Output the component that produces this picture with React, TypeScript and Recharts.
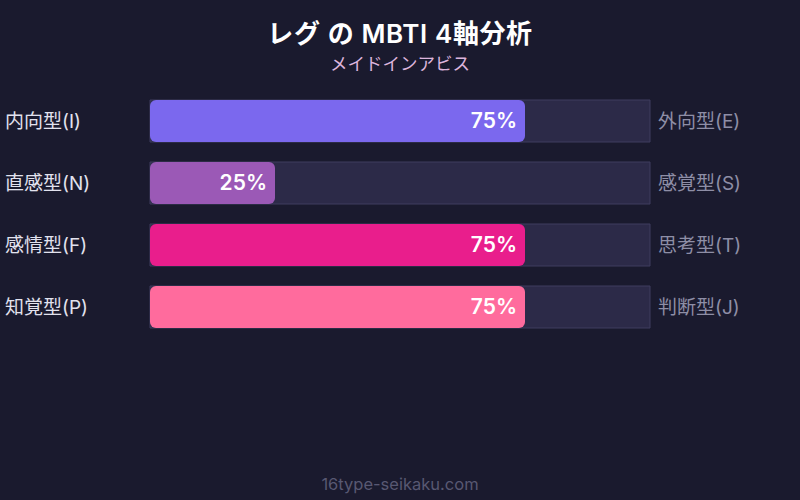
import { BarChart, Bar, XAxis, YAxis, Cell, LabelList } from 'recharts';

// MBTI 4軸：左側の型ごとのスコア（%）
const categories = ['内向型(I)', '直感型(N)', '感情型(F)', '知覚型(P)'];
const opposites = ['外向型(E)', '感覚型(S)', '思考型(T)', '判断型(J)'];
const scores = [75, 25, 75, 75];
const barColors = ['#7b68ee', '#9b59b6', '#e91e8c', '#ff6b9d'];

const FONT = "Inter, 'Noto Sans CJK JP', sans-serif";
const BG = '#1a1a2e';

const rows = categories.map((c, i) => ({ left: c, right: opposites[i], score: scores[i] }));

function LeftTick({ y, payload }: any) {
  return (
    <text x={5} y={y} dy={6.5} textAnchor="start" fill="#e2e2ee" fontSize={19} fontFamily={FONT}>
      {payload.value}
    </text>
  );
}

function RightTick({ y, payload }: any) {
  return (
    <text x={658} y={y} dy={6.5} textAnchor="start" fill="#8e8ea6" fontSize={19} fontFamily={FONT}>
      {payload.value}
    </text>
  );
}

export default function App() {
  return (
    <div style={{ position: 'absolute', left: 0, top: 0, width: 800, height: 500, background: BG, fontFamily: FONT }}>
      <svg width={800} height={90} style={{ position: 'absolute', left: 0, top: 0 }}>
        <text
          x={400}
          y={43}
          textAnchor="middle"
          fill="#ffffff"
          fontSize={26}
          fontWeight={600}
          letterSpacing={0.6}
          fontFamily={FONT}
        >
          レグ の MBTI 4軸分析
        </text>
        <text x={400} y={70} textAnchor="middle" fill="#dcb4dc" fontSize={17.5} fontFamily={FONT}>
          メイドインアビス
        </text>
      </svg>
      <BarChart
        width={800}
        height={500}
        data={rows}
        layout="vertical"
        margin={{ top: 90, right: 0, bottom: 162, left: 0 }}
        style={{ position: 'absolute', left: 0, top: 0 }}
      >
        <XAxis type="number" domain={[0, 100]} hide />
        <YAxis
          yAxisId="left"
          type="category"
          dataKey="left"
          width={150}
          axisLine={false}
          tickLine={false}
          tick={<LeftTick />}
        />
        <YAxis
          yAxisId="right"
          orientation="right"
          type="category"
          dataKey="right"
          width={150}
          axisLine={false}
          tickLine={false}
          tick={<RightTick />}
        />
        <Bar
          yAxisId="left"
          dataKey="score"
          barSize={42}
          radius={6}
          background={{ fill: '#2c2a48', stroke: '#3e3c5e', strokeWidth: 1 }}
          isAnimationActive={false}
        >
          {rows.map((r, i) => (
            <Cell key={r.left} fill={barColors[i]} />
          ))}
          <LabelList
            dataKey="score"
            position="insideRight"
            offset={8}
            formatter={(v: any) => `${v}%`}
            fill="#ffffff"
            fontSize={21}
            fontWeight={600}
            fontFamily={FONT}
          />
        </Bar>
      </BarChart>
      <svg width={800} height={30} style={{ position: 'absolute', left: 0, top: 470 }}>
        <text x={400} y={20} textAnchor="middle" fill="#585872" fontSize={16.5} fontFamily={FONT}>
          16type-seikaku.com
        </text>
      </svg>
    </div>
  );
}
